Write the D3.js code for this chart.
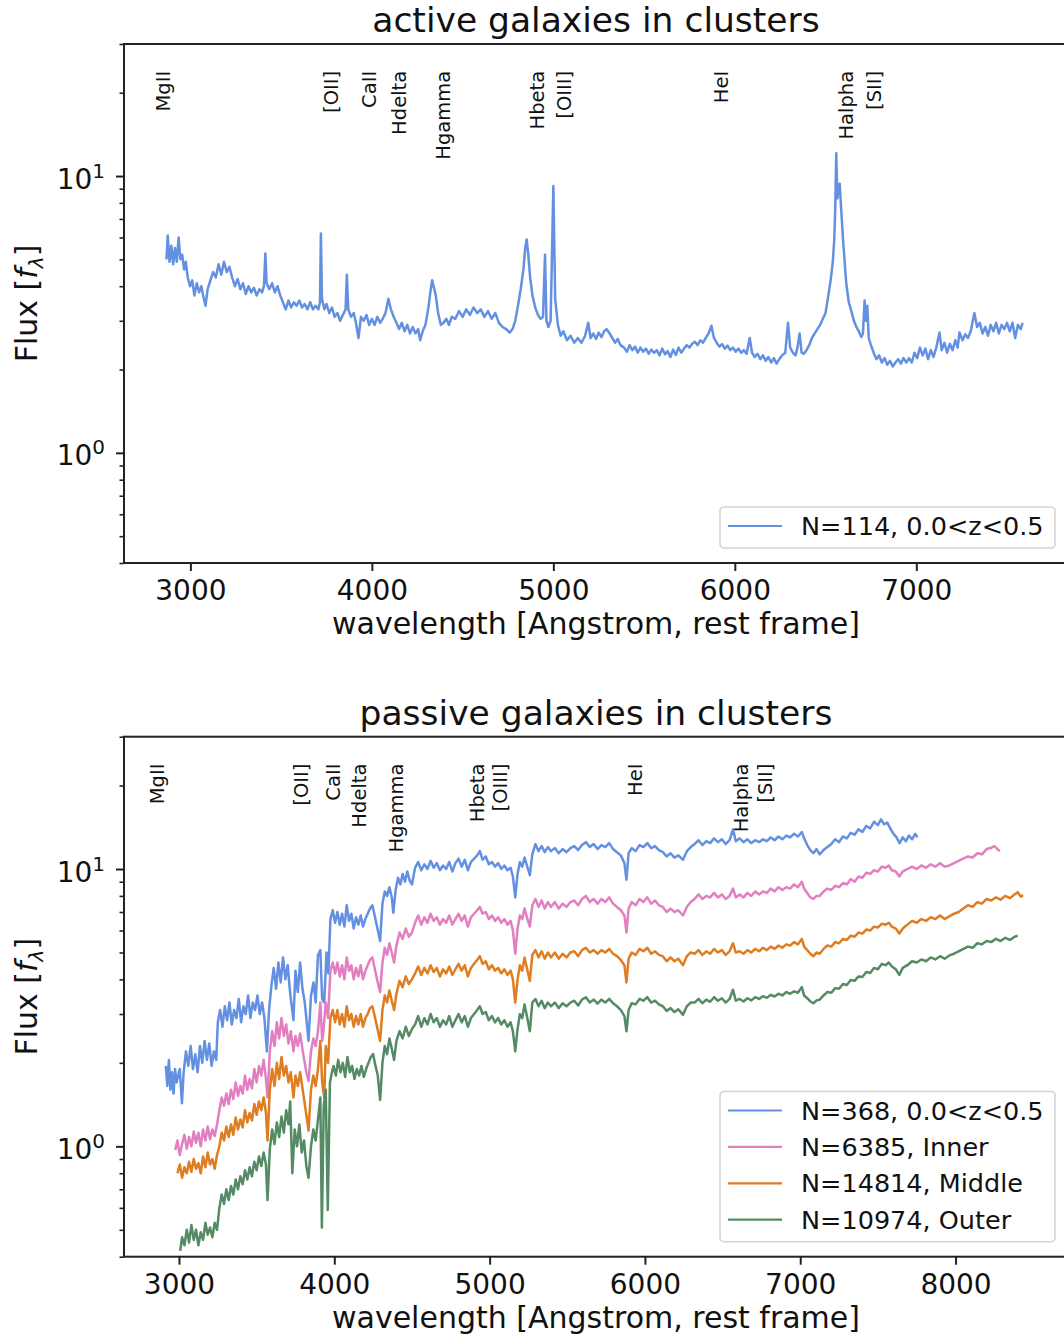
<!DOCTYPE html>
<html>
<head>
<meta charset="utf-8">
<script src="https://cdn.jsdelivr.net/npm/d3@7"></script>
<style>
body { margin: 0; background: #fff; }
svg { display: block; font-family: "DejaVu Sans", sans-serif; }
</style>
</head>
<body>
<svg id="chart" width="1064" height="1340"></svg>
<script>
// spectral features marked in both panels
var lineNames = ["MgII", "[OII]", "CaII", "Hdelta", "Hgamma", "Hbeta", "[OIII]", "HeI", "Halpha", "[SII]"];
var lineWaves = [2798, 3727, 3934, 4102, 4340, 4861, 5007, 5876, 6563, 6716];
var labelLevel = 24;

var xTicksTop = [3000, 4000, 5000, 6000, 7000];
var xTicksBottom = [3000, 4000, 5000, 6000, 7000, 8000];
var yTicksMajor = [1, 10];
var yDomain = [0.4, 30];

var colors = ["#6390e0", "#e27fc0", "#df7d22", "#558b64"];
var activeLegend = ["N=114, 0.0<z<0.5"];
var passiveLegend = ["N=368, 0.0<z<0.5", "N=6385, Inner", "N=14814, Middle", "N=10974, Outer"];

// [wavelength, flux]
var activeSpec = [
[2868,5.0],[2875,6.1],[2885,4.9],[2895,5.6],[2905,4.8],[2915,5.5],[2925,4.9],[2935,6.0],[2945,5.0],[2955,5.2],[2965,4.6],[2975,4.9],
[2985,4.3],[2998,4.0],[3010,4.2],[3022,3.7],[3035,4.1],[3048,3.8],[3060,4.0],[3072,3.65],[3083,3.4],[3095,3.9],
[3110,4.2],[3125,4.5],[3140,4.3],[3155,4.8],[3170,4.4],[3185,4.9],[3200,4.5],[3215,4.7],
[3230,4.3],[3245,4.0],[3260,4.25],[3275,3.9],[3290,4.1],[3305,3.75],[3320,4.0],[3335,3.8],[3350,3.95],[3365,3.7],[3380,3.9],[3395,3.8],
[3405,4.0],[3413,5.25],[3420,4.1],[3435,3.9],[3450,4.1],[3465,3.8],[3480,4.0],[3495,3.7],
[3510,3.5],[3525,3.3],[3540,3.55],[3555,3.35],[3570,3.5],[3585,3.4],[3600,3.55],[3615,3.35],[3630,3.45],[3645,3.3],[3660,3.5],[3675,3.3],[3690,3.4],[3705,3.3],
[3714,3.5],[3719,6.2],[3725,3.6],[3738,3.3],[3750,3.45],[3765,3.2],[3780,3.35],[3795,3.1],[3810,3.2],[3825,3.0],[3840,3.15],[3855,3.3],
[3862,4.4],[3870,3.3],[3885,3.1],[3900,3.2],[3912,2.95],[3926,2.6],[3940,3.1],
[3955,3.0],[3970,3.15],[3985,2.9],[4000,3.05],[4015,2.9],[4030,3.1],[4045,2.95],[4060,3.05],[4075,3.2],
[4091,3.6],[4105,3.3],[4120,3.1],[4135,2.95],[4150,2.8],[4165,2.95],[4180,2.75],[4195,2.9],[4210,2.7],[4225,2.85],[4240,2.7],[4255,2.8],[4266,2.55],[4280,2.75],[4295,2.9],[4310,3.3],
[4322,3.8],[4332,4.2],[4342,3.95],[4352,3.7],[4365,3.2],[4380,2.9],[4395,2.95],[4410,3.05],[4425,2.9],[4440,3.1],
[4460,3.05],[4480,3.25],[4500,3.1],[4520,3.3],[4540,3.15],[4560,3.35],[4580,3.2],[4600,3.3],[4620,3.1],[4640,3.25],[4660,3.05],[4680,3.2],
[4700,2.95],[4720,2.85],[4740,2.8],[4760,2.72],[4775,2.8],
[4790,3.0],[4805,3.4],[4820,3.9],[4835,4.6],[4845,5.5],[4853,5.9],[4862,5.2],[4872,4.3],[4885,3.7],[4900,3.35],[4915,3.15],[4930,3.05],[4943,3.1],
[4954,5.2],[4962,3.0],[4972,2.85],[4985,3.0],[5000,9.2],[5010,3.6],[5025,2.9],[5040,2.65],[5055,2.75],
[5075,2.55],[5095,2.65],[5115,2.5],[5135,2.6],[5155,2.5],[5175,2.65],[5192,2.95],[5205,2.6],[5220,2.7],[5235,2.58],[5250,2.72],[5265,2.62],[5280,2.75],[5293,2.8],[5310,2.7],[5325,2.6],
[5340,2.5],[5355,2.58],[5370,2.45],[5390,2.4],[5405,2.32],[5420,2.45],[5435,2.35],[5450,2.42],[5465,2.3],[5480,2.4],[5495,2.32],[5510,2.38],[5525,2.28],[5540,2.36],[5555,2.3],
[5570,2.35],[5585,2.25],[5600,2.38],[5615,2.27],[5630,2.33],[5645,2.22],[5660,2.36],[5675,2.26],[5690,2.4],[5705,2.3],[5720,2.38],[5735,2.45],[5750,2.4],
[5765,2.48],[5780,2.52],[5795,2.45],[5810,2.55],[5825,2.5],[5840,2.6],[5855,2.7],[5871,2.88],[5885,2.6],
[5900,2.5],[5915,2.42],[5930,2.47],[5945,2.38],[5960,2.44],[5975,2.35],[5990,2.4],[6005,2.32],[6020,2.38],[6035,2.3],[6050,2.35],[6065,2.28],[6082,2.6],
[6095,2.3],[6110,2.22],[6125,2.28],[6140,2.18],[6155,2.25],[6170,2.15],[6185,2.22],[6200,2.12],[6215,2.2],[6230,2.1],[6245,2.18],[6260,2.25],[6278,2.3],
[6293,2.95],[6305,2.4],[6320,2.3],[6335,2.25],[6345,2.4],[6357,2.7],[6368,2.3],[6380,2.28],[6395,2.35],
[6410,2.45],[6425,2.6],[6440,2.7],[6455,2.8],[6470,2.9],[6485,3.05],[6500,3.2],[6515,3.7],[6528,4.2],[6540,4.9],
[6548,5.9],[6553,7.5],[6559,12.1],[6565,8.3],[6572,9.0],[6578,9.4],[6584,8.0],
[6597,5.8],[6614,4.1],[6628,3.5],[6642,3.25],[6656,3.0],[6669,2.86],[6683,2.75],[6697,2.62],[6706,2.7],
[6715,3.55],[6722,3.0],[6730,3.4],[6738,2.6],[6750,2.45],
[6765,2.3],[6780,2.18],[6795,2.25],[6810,2.12],[6825,2.2],[6840,2.08],[6855,2.15],[6870,2.05],[6885,2.12],
[6900,2.18],[6915,2.1],[6930,2.2],[6945,2.12],[6960,2.2],[6975,2.12],
[6990,2.3],[7005,2.2],[7020,2.4],[7035,2.25],[7050,2.38],[7065,2.18],[7080,2.35],[7095,2.22],[7110,2.4],[7128,2.72],
[7140,2.35],[7155,2.5],[7170,2.3],[7185,2.48],[7200,2.35],[7215,2.55],[7228,2.4],[7238,2.72],
[7255,2.55],[7270,2.68],[7285,2.6],[7300,2.75],[7320,3.2],[7335,2.85],
[7350,2.95],[7365,2.7],[7380,2.85],[7395,2.65],[7410,2.9],[7425,2.75],[7440,2.95],[7455,2.7],[7470,2.9],[7485,2.8],[7500,2.95],[7515,2.75],[7530,2.95],[7545,2.6],[7560,2.9],[7575,2.8],[7586,2.95]
];

var passiveAll = [
[2915,1.95],[2925,1.65],[2935,2.05],[2945,1.6],[2955,1.85],[2965,1.55],[2975,1.9],[2985,1.7],[2995,1.8],[3005,1.9],[3019,1.43],[3030,1.85],
[3045,2.2],[3060,1.95],[3075,2.3],[3090,1.9],[3105,2.15],[3120,1.85],[3135,2.3],[3150,2.0],[3165,2.4],[3180,2.05],[3195,2.35],[3210,1.95],[3225,2.2],[3240,2.05],
[3250,2.8],[3265,3.1],[3280,2.7],[3295,3.2],[3310,2.85],[3325,3.3],[3340,2.75],[3355,3.1],[3370,2.9],[3385,3.4],[3400,2.8],[3415,3.2],[3430,3.0],[3445,3.5],[3460,2.9],[3475,3.3],[3490,3.1],[3505,3.5],[3520,3.0],[3535,3.3],[3550,2.9],[3566,2.2],[3580,3.1],
[3595,3.8],[3610,4.4],[3625,3.7],[3640,4.6],[3655,3.9],[3670,4.8],[3685,4.0],[3700,4.5],[3715,3.6],[3737,2.85],[3750,4.3],[3765,3.6],[3780,4.6],[3795,3.7],[3810,3.3],
[3834,2.4],[3850,3.5],[3866,3.9],[3880,3.3],[3895,4.9],[3910,5.1],[3922,3.4],[3935,3.3],[3950,5.0],[3962,4.2],[3975,6.6],[3990,7.1],
[4005,6.4],[4020,7.0],[4035,6.3],[4050,6.9],[4065,6.2],[4080,7.4],[4095,6.5],[4110,6.9],[4125,6.1],[4140,6.7],[4155,6.3],[4170,6.8],[4185,6.2],[4200,6.6],[4215,6.9],[4230,7.2],[4245,7.4],[4260,6.8],[4275,6.2],
[4295,5.5],[4310,7.5],[4325,8.3],[4340,8.0],[4355,8.6],[4370,7.9],[4380,6.95],[4395,8.4],[4410,9.3],[4425,8.8],[4440,9.6],[4455,9.0],[4470,9.8],[4485,9.1],[4500,8.8],
[4520,10.1],[4540,10.6],[4560,9.9],[4580,10.4],[4600,10.0],[4620,10.7],[4640,10.1],[4660,10.5],[4680,9.9],[4700,10.3],[4720,10.0],[4740,10.6],[4760,9.8],
[4780,10.5],[4800,10.9],[4820,10.2],[4840,10.8],[4860,9.9],[4880,10.6],[4900,10.9],[4920,11.2],[4937,11.6],[4955,10.8],[4975,11.1],[4995,10.4],[5015,10.6],[5035,10.2],[5055,10.5],[5075,10.0],[5095,10.3],[5115,9.9],[5135,10.1],[5150,9.4],[5165,7.9],[5180,9.6],[5195,10.6],
[5210,10.2],[5225,11.0],[5240,10.3],[5259,9.5],[5275,11.3],
[5295,12.3],[5315,11.6],[5335,12.1],[5355,11.5],[5375,12.0],[5395,11.6],[5420,11.9],[5445,11.4],[5470,11.8],[5495,11.5],[5520,11.9],[5545,12.1],[5570,11.7],[5595,12.2],[5620,12.5],[5645,12.0],[5670,12.3],[5695,11.8],[5720,12.2],[5745,12.0],[5770,12.4],[5795,11.8],[5820,11.5],[5845,11.2],
[5868,10.5],[5881,9.15],[5895,11.4],[5915,11.9],[5940,11.6],[5965,12.2],[5990,12.0],[6015,12.4],[6040,11.9],[6065,12.1],[6090,11.7],[6115,11.5],[6140,11.1],[6165,11.4],[6190,11.0],[6215,11.2],[6245,10.8],[6270,11.6],[6295,12.0],
[6320,12.3],[6345,12.7],[6370,12.2],[6395,12.6],[6420,12.4],[6445,12.9],[6470,12.5],[6495,12.8],[6520,12.3],[6545,12.7],[6567,13.9],[6585,12.6],
[6610,12.9],[6635,12.5],[6660,12.8],[6685,12.4],[6710,12.7],[6735,12.5],[6760,12.8],[6785,12.6],[6810,13.0],[6835,12.7],[6860,13.1],[6885,12.8],[6910,13.2],[6935,13.0],[6960,13.4],[6985,13.1],[7010,13.6],[7025,12.9],
[7045,12.2],[7065,11.7],[7085,11.4],[7105,11.8],[7125,11.3],[7150,11.7],[7175,12.0],
[7200,12.3],[7225,12.8],[7250,12.5],[7275,13.1],[7300,12.9],[7325,13.5],[7350,13.3],[7375,13.9],[7400,13.6],[7425,14.3],[7450,14.0],[7475,14.8],[7500,14.4],[7520,15.1],[7540,14.5],[7560,14.7],
[7580,14.0],[7600,13.4],[7620,13.0],[7640,12.4],[7660,13.0],[7680,12.6],[7700,13.2],[7720,12.8],[7740,13.4],[7755,13.0]
];

var passiveInner = [
[2976,0.97],[2990,1.05],[3005,0.93],[3020,1.02],[3035,1.1],[3050,0.98],[3065,1.08],[3080,1.0],[3095,1.13],[3110,1.03],[3125,1.12],[3140,1.0],[3155,1.15],[3170,1.05],[3185,1.18],[3200,1.06],[3215,1.15],[3230,1.09],[3245,1.2],
[3260,1.35],[3275,1.5],[3290,1.4],[3305,1.55],[3320,1.42],[3335,1.6],[3350,1.48],[3365,1.7],[3380,1.52],[3395,1.65],[3410,1.55],[3425,1.8],[3440,1.6],[3455,1.75],[3470,1.62],[3485,1.9],[3500,1.7],[3515,1.95],[3530,1.8],[3545,2.05],[3560,1.75],[3570,1.5],
[3585,2.2],[3600,2.6],[3615,2.3],[3630,2.8],[3645,2.45],[3660,2.9],[3675,2.5],[3690,2.75],[3705,2.35],[3720,2.6],[3737,2.2],[3750,2.5],[3765,2.3],[3780,2.55],[3800,2.15],[3820,1.85],[3834,1.72],
[3850,2.2],[3865,2.45],[3880,2.3],[3895,2.6],[3910,3.3],[3922,2.4],[3930,2.6],[3945,3.3],[3960,2.9],[3975,4.3],[3990,4.6],
[4005,4.2],[4020,4.6],[4035,4.1],[4050,4.5],[4065,4.0],[4080,4.8],[4095,4.3],[4110,4.5],[4125,4.0],[4140,4.4],[4155,4.1],[4170,4.5],[4185,4.0],[4200,4.3],[4215,4.5],[4230,4.7],[4245,4.8],[4260,4.4],[4275,4.0],[4295,3.6],
[4310,4.6],[4325,5.2],[4340,4.9],[4355,5.4],[4370,5.0],[4385,4.6],[4400,5.3],[4420,5.9],[4440,5.6],[4460,6.1],[4480,5.7],[4500,5.9],
[4520,6.4],[4540,6.8],[4560,6.3],[4580,6.7],[4600,6.4],[4620,6.9],[4640,6.5],[4660,6.7],[4680,6.3],[4700,6.6],[4720,6.4],[4740,6.8],[4760,6.3],
[4780,6.6],[4800,6.9],[4820,6.5],[4840,6.8],[4860,6.2],[4880,6.7],[4900,6.9],[4920,7.1],[4937,7.3],[4955,6.9],[4975,7.0],[4995,6.6],[5015,6.8],[5035,6.5],[5055,6.7],[5075,6.4],[5095,6.6],[5115,6.3],[5135,6.5],[5150,6.0],[5165,4.95],[5180,6.1],[5195,6.8],
[5210,6.6],[5225,7.2],[5240,6.7],[5259,6.2],[5275,7.4],
[5295,7.8],[5315,7.3],[5335,7.7],[5355,7.2],[5375,7.6],[5395,7.3],[5420,7.6],[5445,7.2],[5470,7.5],[5495,7.3],[5520,7.6],[5545,7.7],[5570,7.4],[5595,7.8],[5620,8.0],[5645,7.6],[5670,7.8],[5695,7.5],[5720,7.8],[5745,7.6],[5770,7.9],[5795,7.5],[5820,7.3],[5845,7.1],
[5868,6.8],[5881,5.9],[5895,7.2],[5915,7.6],[5940,7.4],[5965,7.8],[5990,7.6],[6015,7.9],[6040,7.5],[6065,7.7],[6090,7.4],[6115,7.3],[6140,7.0],[6165,7.2],[6190,7.0],[6215,7.1],[6245,6.8],[6270,7.3],[6295,7.6],
[6320,7.8],[6345,8.1],[6370,7.8],[6395,8.0],[6420,7.9],[6445,8.2],[6470,7.9],[6495,8.1],[6520,7.8],[6545,8.0],[6567,8.5],[6585,7.9],
[6610,8.1],[6635,7.9],[6660,8.2],[6685,8.0],[6710,8.3],[6735,8.1],[6760,8.3],[6785,8.2],[6810,8.5],[6835,8.3],[6860,8.6],[6885,8.4],[6910,8.6],[6935,8.5],[6960,8.8],[6985,8.6],[7010,9.0],[7025,8.5],
[7045,8.2],[7065,7.9],[7085,7.8],[7105,8.0],[7125,8.0],
[7150,8.3],[7175,8.5],[7200,8.4],[7225,8.7],[7250,8.6],[7275,8.9],[7300,8.8],[7325,9.2],[7350,9.0],[7375,9.4],[7400,9.3],[7425,9.7],[7450,9.6],[7475,9.9],[7500,9.8],[7525,10.2],[7550,10.1],
[7570,10.3],[7590,9.9],[7615,9.8],[7638,9.4],[7660,9.8],
[7690,10.0],[7720,10.2],[7750,10.0],[7780,10.3],[7810,10.1],[7840,10.4],[7870,10.2],[7900,10.5],[7930,10.2],[7960,10.3],[7990,10.5],
[8020,10.7],[8050,10.9],[8080,11.1],[8110,11.0],[8140,11.4],[8170,11.3],[8200,11.8],[8225,11.9],[8250,12.1],[8270,11.8],[8285,11.6]
];

var passiveMiddle = [
[2990,0.8],[3005,0.86],[3020,0.77],[3035,0.84],[3050,0.8],[3065,0.88],[3080,0.81],[3095,0.9],[3110,0.83],[3125,0.87],[3140,0.8],[3155,0.92],[3170,0.84],[3185,0.95],[3200,0.86],[3215,0.9],[3230,0.83],[3245,0.93],
[3260,1.0],[3275,1.12],[3290,1.05],[3305,1.18],[3320,1.08],[3335,1.2],[3350,1.1],[3365,1.27],[3380,1.15],[3395,1.25],[3410,1.17],[3425,1.35],[3440,1.22],[3455,1.32],[3470,1.24],[3485,1.42],[3500,1.3],[3515,1.45],[3530,1.35],[3545,1.5],[3560,1.32],[3570,1.05],
[3585,1.6],[3600,1.9],[3615,1.65],[3630,2.0],[3645,1.75],[3660,2.1],[3675,1.8],[3690,1.95],[3705,1.7],[3720,1.85],[3737,1.5],[3750,1.8],[3765,1.65],[3780,1.85],[3800,1.55],[3820,1.3],[3834,1.14],
[3850,1.6],[3865,1.8],[3880,1.65],[3895,1.9],[3910,2.4],[3922,1.7],[3935,1.5],[3945,2.3],[3960,2.0],[3975,2.9],[3990,3.1],
[4005,2.8],[4020,3.1],[4035,2.75],[4050,3.0],[4065,2.7],[4080,3.2],[4095,2.85],[4110,3.0],[4125,2.7],[4140,2.95],[4155,2.75],[4170,3.0],[4185,2.7],[4200,2.9],[4215,3.0],[4230,3.15],[4245,3.2],[4260,2.95],[4275,2.7],[4295,2.4],
[4310,3.1],[4325,3.5],[4340,3.3],[4355,3.65],[4370,3.35],[4385,3.1],[4400,3.55],[4420,3.95],[4440,3.75],[4460,4.1],[4480,3.85],[4500,4.0],
[4520,4.2],[4540,4.45],[4560,4.15],[4580,4.4],[4600,4.2],[4620,4.5],[4640,4.25],[4660,4.4],[4680,4.1],[4700,4.35],[4720,4.2],[4740,4.45],[4760,4.15],
[4780,4.35],[4800,4.55],[4820,4.3],[4840,4.5],[4860,4.1],[4880,4.4],[4900,4.55],[4920,4.7],[4937,4.85],[4955,4.55],[4975,4.65],[4995,4.35],[5015,4.5],[5035,4.3],[5055,4.4],[5075,4.2],[5095,4.35],[5115,4.15],[5135,4.3],[5150,4.0],[5165,3.3],[5180,4.0],[5195,4.5],
[5210,4.3],[5225,4.8],[5240,4.4],[5259,3.95],[5275,4.9],
[5295,5.1],[5315,4.8],[5335,5.05],[5355,4.75],[5375,5.0],[5395,4.8],[5420,5.0],[5445,4.75],[5470,4.95],[5495,4.8],[5520,5.0],[5545,5.05],[5570,4.85],[5595,5.1],[5620,5.2],[5645,5.0],[5670,5.1],[5695,4.95],[5720,5.1],[5745,5.0],[5770,5.15],[5795,4.95],[5820,4.85],[5845,4.7],
[5868,4.5],[5881,3.9],[5895,4.75],[5915,5.0],[5940,4.9],[5965,5.15],[5990,5.05],[6015,5.2],[6040,4.95],[6065,5.05],[6090,4.9],[6115,4.85],[6140,4.65],[6165,4.8],[6190,4.65],[6215,4.75],[6245,4.5],[6270,4.85],[6295,5.0],
[6320,4.95],[6345,5.1],[6370,4.9],[6395,5.05],[6420,4.95],[6445,5.15],[6470,5.0],[6495,5.1],[6520,4.9],[6545,5.05],[6567,5.4],[6585,5.0],
[6610,5.05],[6635,4.95],[6660,5.1],[6685,5.0],[6710,5.15],[6735,5.05],[6760,5.2],[6785,5.1],[6810,5.25],[6835,5.15],[6860,5.3],[6885,5.2],[6910,5.35],[6935,5.3],[6960,5.45],[6985,5.35],[7010,5.6],[7025,5.25],
[7045,5.1],[7065,4.95],[7085,4.85],[7105,5.0],[7125,4.95],
[7150,5.15],[7175,5.3],[7200,5.25],[7225,5.45],[7250,5.4],[7275,5.6],[7300,5.55],[7325,5.75],[7350,5.7],[7375,5.9],[7400,5.85],[7425,6.05],[7450,6.0],[7475,6.2],[7500,6.15],[7525,6.35],[7550,6.3],
[7570,6.4],[7590,6.2],[7615,6.1],[7638,5.85],[7660,6.1],
[7690,6.3],[7720,6.5],[7750,6.4],[7780,6.6],[7810,6.5],[7840,6.7],[7870,6.6],[7900,6.8],[7930,6.6],[7960,6.75],[7990,6.9],
[8020,7.0],[8050,7.2],[8080,7.4],[8110,7.3],[8140,7.6],[8170,7.5],[8200,7.8],[8230,7.7],[8260,7.9],[8290,7.75],[8320,8.0],[8350,7.85],[8380,8.1],[8400,8.25],[8420,7.95],[8435,8.05]
];

var passiveOuter = [
[3008,0.42],[3020,0.47],[3035,0.44],[3050,0.5],[3065,0.45],[3080,0.52],[3095,0.46],[3110,0.5],[3125,0.44],[3140,0.49],[3155,0.46],[3170,0.53],[3185,0.48],[3200,0.51],[3215,0.47],[3230,0.53],[3245,0.5],
[3260,0.6],[3275,0.67],[3290,0.62],[3305,0.7],[3320,0.64],[3335,0.72],[3350,0.67],[3365,0.76],[3380,0.7],[3395,0.78],[3410,0.73],[3425,0.82],[3440,0.76],[3455,0.84],[3470,0.78],[3485,0.88],[3500,0.82],[3515,0.92],[3530,0.85],[3545,0.95],[3560,0.86],[3570,0.64],
[3585,0.98],[3600,1.15],[3615,1.02],[3630,1.22],[3645,1.08],[3660,1.28],[3675,1.12],[3690,1.35],[3705,1.2],[3716,1.45],[3730,0.8],[3745,1.15],[3760,1.0],[3775,1.2],[3790,0.95],[3805,1.05],[3820,0.85],[3834,0.77],
[3850,1.0],[3865,1.15],[3880,1.05],[3895,1.25],[3910,1.5],[3920,0.51],[3932,1.4],[3945,1.6],[3958,0.59],[3972,1.7],[3985,1.85],[3995,1.95],
[4010,1.8],[4025,2.05],[4040,1.85],[4055,2.0],[4070,1.78],[4085,2.1],[4100,1.85],[4115,1.95],[4130,1.75],[4145,1.9],[4160,1.8],[4175,1.95],[4190,1.78],[4205,1.9],[4220,2.0],[4235,2.1],[4250,2.15],[4265,1.95],[4280,1.8],[4295,1.47],
[4310,2.0],[4325,2.3],[4340,2.15],[4355,2.45],[4370,2.25],[4385,2.05],[4400,2.4],[4420,2.6],[4440,2.45],[4460,2.7],[4480,2.5],[4500,2.65],
[4520,2.75],[4540,2.95],[4560,2.7],[4580,2.9],[4600,2.75],[4620,3.0],[4640,2.8],[4660,2.9],[4680,2.7],[4700,2.85],[4720,2.75],[4740,2.95],[4760,2.7],
[4780,2.85],[4800,3.0],[4820,2.8],[4840,2.95],[4860,2.7],[4880,2.9],[4900,3.0],[4920,3.1],[4937,3.2],[4955,3.0],[4975,3.05],[4995,2.85],[5015,2.95],[5035,2.8],[5055,2.9],[5075,2.75],[5095,2.85],[5115,2.7],[5135,2.8],[5150,2.6],[5165,2.2],[5180,2.65],[5195,3.0],
[5210,2.9],[5225,3.25],[5240,2.95],[5259,2.6],[5275,3.3],
[5295,3.4],[5315,3.2],[5335,3.35],[5355,3.15],[5375,3.3],[5395,3.2],[5420,3.3],[5445,3.15],[5470,3.28],[5495,3.2],[5520,3.3],[5545,3.35],[5570,3.22],[5595,3.38],[5620,3.45],[5645,3.3],[5670,3.38],[5695,3.27],[5720,3.38],[5745,3.3],[5770,3.4],[5795,3.28],[5820,3.2],[5845,3.1],
[5868,2.95],[5881,2.6],[5895,3.1],[5915,3.28],[5940,3.25],[5965,3.4],[5990,3.35],[6015,3.45],[6040,3.3],[6065,3.35],[6090,3.25],[6115,3.2],[6140,3.08],[6165,3.15],[6190,3.05],[6215,3.12],[6245,2.98],[6270,3.2],[6295,3.3],
[6320,3.3],[6345,3.4],[6370,3.28],[6395,3.38],[6420,3.32],[6445,3.45],[6470,3.35],[6495,3.42],[6520,3.3],[6545,3.4],[6567,3.67],[6585,3.35],
[6610,3.4],[6635,3.33],[6660,3.42],[6685,3.36],[6710,3.45],[6735,3.4],[6760,3.48],[6785,3.43],[6810,3.52],[6835,3.47],[6860,3.55],[6885,3.5],[6910,3.6],[6935,3.55],[6960,3.62],[6985,3.58],[7010,3.75],[7025,3.5],
[7045,3.42],[7065,3.33],[7085,3.28],[7105,3.36],[7125,3.38],
[7150,3.5],[7175,3.6],[7200,3.58],[7225,3.72],[7250,3.7],[7275,3.85],[7300,3.82],[7325,3.98],[7350,3.95],[7375,4.1],[7400,4.08],[7425,4.25],[7450,4.22],[7475,4.4],[7500,4.35],[7525,4.55],[7550,4.5],
[7570,4.6],[7590,4.45],[7615,4.35],[7638,4.15],[7660,4.4],
[7690,4.5],[7720,4.65],[7750,4.6],[7780,4.72],[7810,4.65],[7840,4.8],[7870,4.72],[7900,4.85],[7930,4.75],[7960,4.88],[7990,4.95],
[8020,5.05],[8050,5.15],[8080,5.25],[8110,5.2],[8140,5.4],[8170,5.35],[8200,5.5],[8230,5.45],[8260,5.6],[8290,5.5],[8320,5.65],[8350,5.55],[8380,5.7],[8400,5.75]
];

var svg = d3.select("#chart");
var plotLeft = 124, plotRight = 1068;

function yTickLabel(sel, v) {
	var exp = Math.round(Math.log10(v));
	sel.append("tspan").text("10");
	sel.append("tspan").attr("font-size", 20).attr("dy", -11).text(exp);
}

function drawPanel(p) {
	var x = d3.scaleLinear().domain(p.xDomain).range([plotLeft, plotRight]);
	var y = d3.scaleLog().domain(yDomain).range([p.bottom, p.top]);
	var g = svg.append("g");

	svg.append("clipPath").attr("id", "clip" + p.id)
		.append("rect")
		.attr("x", plotLeft).attr("y", p.top)
		.attr("width", plotRight - plotLeft).attr("height", p.bottom - p.top);

	var line = d3.line()
		.x(d => x(d[0]))
		.y(d => y(d[1]));

	g.append("g").attr("clip-path", `url(#clip${p.id})`)
		.selectAll("path")
		.data(p.series)
		.enter().append("path")
		.attr("d", d => line(d))
		.attr("fill", "none")
		.attr("stroke", (d, i) => colors[i])
		.attr("stroke-width", 2.5)
		.attr("stroke-linejoin", "round");

	// feature labels, rotated, hanging from the top
	g.selectAll(".feature")
		.data(lineNames)
		.enter().append("text")
		.attr("class", "feature")
		.attr("transform", (d, i) => `translate(${x(lineWaves[i]) + 16},${y(labelLevel)}) rotate(-90)`)
		.attr("text-anchor", "end")
		.attr("font-size", 19.5)
		.attr("fill", "#111")
		.text(d => d);

	// x axis
	var xAxis = g.append("g")
		.attr("transform", `translate(0,${p.bottom})`)
		.call(d3.axisBottom(x).tickValues(p.xTicks).tickSize(8).tickPadding(9).tickFormat(d3.format("d")));
	xAxis.select(".domain").remove();
	xAxis.selectAll(".tick line").attr("stroke", "#222").attr("stroke-width", 2);
	xAxis.selectAll(".tick text")
		.attr("font-size", 28)
		.attr("font-family", "DejaVu Sans")
		.attr("fill", "#111");

	// y axis: minor ticks then major ticks with 10^n labels
	var minor = y.ticks().filter(v => Math.abs(Math.log10(v) - Math.round(Math.log10(v))) > 1e-6);
	var yMinor = g.append("g")
		.attr("transform", `translate(${plotLeft},0)`)
		.call(d3.axisLeft(y).tickValues(minor).tickSize(4.5).tickFormat(""));
	yMinor.select(".domain").remove();
	yMinor.selectAll(".tick line").attr("stroke", "#222").attr("stroke-width", 1.6);

	var yMajor = g.append("g")
		.attr("transform", `translate(${plotLeft},0)`)
		.call(d3.axisLeft(y).tickValues(yTicksMajor).tickSize(8).tickFormat(""));
	yMajor.select(".domain").remove();
	yMajor.selectAll(".tick line").attr("stroke", "#222").attr("stroke-width", 2);

	yMajor.selectAll(".tick").append("text")
		.attr("x", -19)
		.attr("y", 12)
		.attr("text-anchor", "end")
		.attr("font-size", 28)
		.attr("font-family", "DejaVu Sans")
		.attr("fill", "#111")
		.each(function(v) { yTickLabel(d3.select(this), v); });

	// frame
	g.append("rect")
		.attr("x", plotLeft).attr("y", p.top)
		.attr("width", plotRight - plotLeft).attr("height", p.bottom - p.top)
		.attr("fill", "none").attr("stroke", "#222").attr("stroke-width", 2);

	// titles and labels
	g.append("text")
		.attr("x", (plotLeft + plotRight) / 2)
		.attr("y", p.top - 12)
		.attr("text-anchor", "middle")
		.attr("font-size", 34.5)
		.attr("fill", "#111")
		.text(p.title);

	g.append("text")
		.attr("x", (plotLeft + plotRight) / 2)
		.attr("y", p.bottom + 71)
		.attr("text-anchor", "middle")
		.attr("font-size", 30)
		.attr("fill", "#111")
		.text("wavelength [Angstrom, rest frame]");

	var yl = g.append("text")
		.attr("transform", `translate(37,${(p.top + p.bottom) / 2}) rotate(-90)`)
		.attr("text-anchor", "middle")
		.attr("font-size", 30)
		.attr("fill", "#111");
	yl.append("tspan").text("Flux [");
	yl.append("tspan").attr("font-style", "italic").text("f");
	yl.append("tspan").attr("font-style", "italic").attr("font-size", 20).attr("dy", 6).text("λ");
	yl.append("tspan").attr("dy", -6).text("]");

	// legend
	var n = p.legend.length;
	var boxH = 41 + (n - 1) * 36.4;
	var boxTop = p.bottom - 15 - boxH;
	var leg = g.append("g");
	leg.append("rect")
		.attr("x", 720).attr("y", boxTop)
		.attr("width", 335).attr("height", boxH)
		.attr("rx", 4)
		.attr("fill", "#fff").attr("fill-opacity", 0.85)
		.attr("stroke", "#d4d4d4").attr("stroke-width", 1.6);
	var items = leg.selectAll(".item")
		.data(p.legend)
		.enter().append("g")
		.attr("transform", (d, i) => `translate(0,${boxTop + 19 + i * 36.4})`);
	items.append("line")
		.attr("x1", 728).attr("x2", 782)
		.attr("stroke", (d, i) => colors[i])
		.attr("stroke-width", 2.2);
	items.append("text")
		.attr("x", 801).attr("y", 9)
		.attr("font-size", 25.5)
		.attr("fill", "#111")
		.text(d => d);
}

drawPanel({
	id: "top", top: 44, bottom: 563,
	xDomain: [2634, 7836], xTicks: xTicksTop,
	title: "active galaxies in clusters",
	series: [activeSpec], legend: activeLegend
});

drawPanel({
	id: "bottom", top: 736.7, bottom: 1256.7,
	xDomain: [2646, 8724], xTicks: xTicksBottom,
	title: "passive galaxies in clusters",
	series: [passiveAll, passiveInner, passiveMiddle, passiveOuter], legend: passiveLegend
});
</script>
</body>
</html>
